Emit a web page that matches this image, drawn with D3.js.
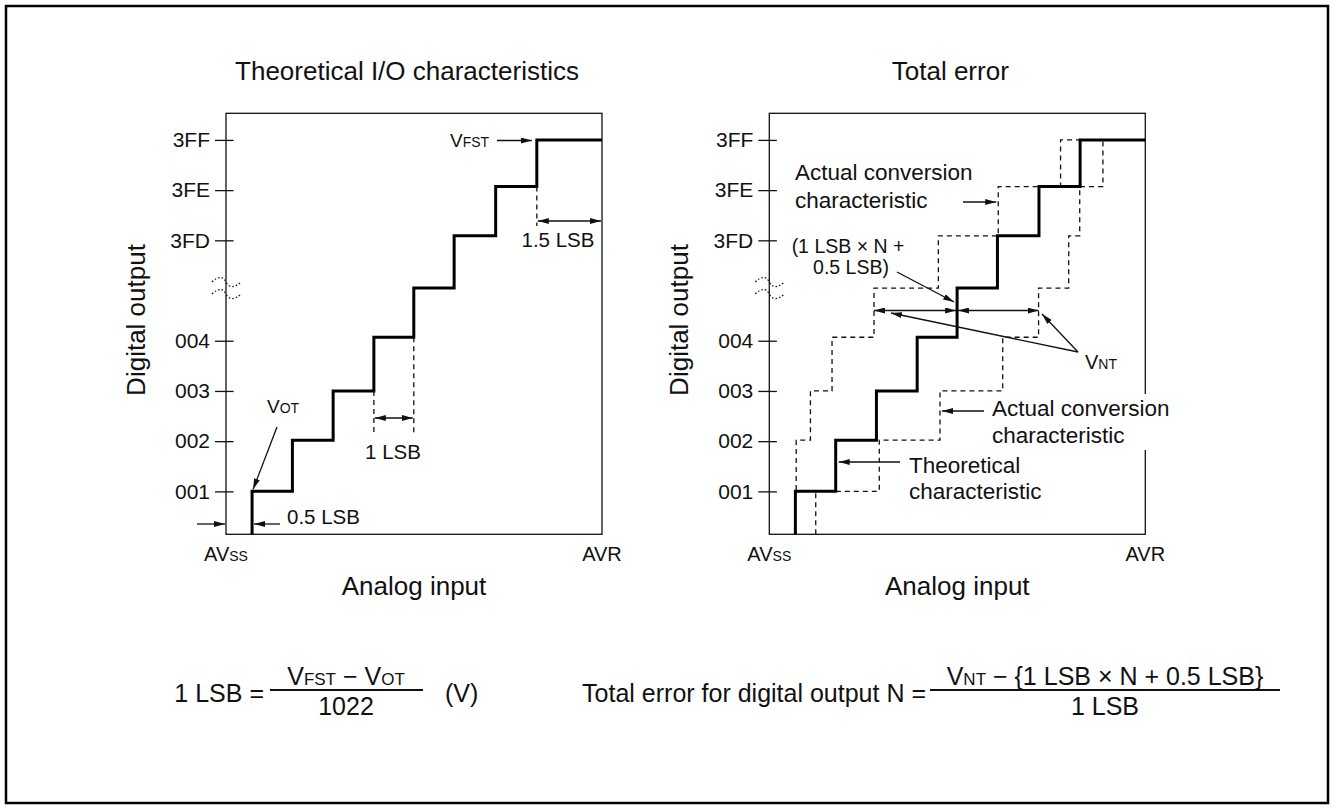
<!DOCTYPE html>
<html>
<head>
<meta charset="utf-8">
<title>A/D converter - total error</title>
<script src="https://d3js.org/d3.v7.min.js"></script>
<style>
  body { margin: 0; background: #fff; }
  svg text { font-family: "Liberation Sans", Arial, Helvetica, sans-serif; fill: #111; white-space: pre; }
</style>
</head>
<body>
<svg id="chart"></svg>
<script>
// y axis: code index position -> printed code
const codeLabels = ["001", "002", "003", "004", "3FD", "3FE", "3FF"];
const codePositions = [1, 2, 3, 4, 6, 7, 8];
// height of each output step, in code-index units
const stepLevels = [1.0, 2.02, 3.0, 4.07, 5.05, 6.09, 7.07, 8.0];
// analog input (LSB from AVss) at which each step starts
const idealEdges = [0.64, 1.63, 2.63, 3.63, 4.61, 5.60, 6.62, 7.63];
const actualEarlyEdges = [0.64, 0.66, 1.01, 1.54, 2.57, 4.15, 5.62, 7.15];
const actualLateEdges = [1.14, 2.70, 4.19, 5.73, 6.61, 7.35, 7.62, 8.19];
const panelTitles = ["Theoretical I/O characteristics", "Total error"];

const svgWidth = 1334;
const svgHeight = 809;
const boxW = 376;
const boxTop = 113.3;
const boxBottom = 534.3;
const panelLeft = [226, 769.3];

const svg = d3.select("#chart")
    .attr("width", svgWidth)
    .attr("height", svgHeight);

svg.append("defs").append("marker")
    .attr("id", "arr")
    .attr("viewBox", "0 0 11 6")
    .attr("refX", 11).attr("refY", 3)
    .attr("markerUnits", "userSpaceOnUse")
    .attr("markerWidth", 11).attr("markerHeight", 6)
    .attr("orient", "auto-start-reverse")
    .append("path").attr("d", "M0,0L11,3L0,6Z").attr("fill", "#111");

// page frame
svg.append("rect")
    .attr("x", 6).attr("y", 6)
    .attr("width", svgWidth - 12).attr("height", svgHeight - 12)
    .attr("fill", "none").attr("stroke", "#000").attr("stroke-width", 2.5);

function richText(g, x, y, parts, anchor) {
    const t = g.append("text").attr("x", x).attr("y", y)
        .attr("text-anchor", anchor || "start")
        .attr("xml:space", "preserve");
    parts.forEach(p => t.append("tspan").style("font-size", p[1] + "px").text(p[0]));
    return t;
}

function arrow(g, x1, y1, x2, y2, both) {
    const l = g.append("line")
        .attr("x1", x1).attr("y1", y1).attr("x2", x2).attr("y2", y2)
        .attr("stroke", "#111").attr("stroke-width", 1.3)
        .attr("marker-end", "url(#arr)");
    if (both) l.attr("marker-start", "url(#arr)");
}

function dashed(g, x1, y1, x2, y2) {
    g.append("line")
        .attr("x1", x1).attr("y1", y1).attr("x2", x2).attr("y2", y2)
        .attr("stroke", "#111").attr("stroke-width", 1.3)
        .attr("stroke-dasharray", "5,4");
}

const panels = panelLeft.map((left, i) => {
    const g = svg.append("g");
    const x = d3.scaleLinear().domain([0, 9.23]).range([left, left + boxW]);
    const y = d3.scaleLinear().domain([0.145, 8.53]).range([boxBottom, boxTop]);

    g.append("text")
        .attr("x", left + boxW / 2 - 7).attr("y", 80)
        .attr("text-anchor", "middle").style("font-size", "26px")
        .text(panelTitles[i]);

    g.append("rect")
        .attr("x", left).attr("y", boxTop)
        .attr("width", boxW).attr("height", boxBottom - boxTop)
        .attr("fill", "none").attr("stroke", "#111").attr("stroke-width", 1.3);

    const axis = g.append("g")
        .attr("transform", `translate(${left},0)`)
        .call(d3.axisLeft(y).tickValues(codePositions)
            .tickFormat((d, k) => codeLabels[k]).tickSize(11).tickPadding(5));
    axis.select(".domain").remove();
    axis.selectAll(".tick line").attr("x1", 7.6).attr("x2", -11)
        .attr("stroke", "#111").attr("stroke-width", 1.3);
    axis.selectAll(".tick text").style("font-size", "21px")
        .style("font-family", "'Liberation Sans', Arial, sans-serif").attr("fill", "#111");

    // axis break between 004 and 3FD
    const yb = y(5.05);
    [-6, 6].forEach(off => {
        g.append("path")
            .attr("d", `M${left - 14},${yb + off} C${left - 8},${yb + off - 6} ${left - 3},${yb + off - 6} ${left},${yb + off}` +
                ` S${left + 9},${yb + off + 6} ${left + 15},${yb + off}`)
            .attr("fill", "none").attr("stroke", "#111").attr("stroke-width", 1.2)
            .attr("stroke-dasharray", "1.6,2");
    });

    richText(g, x(0), 561, [["AV", 20], ["SS", 14]], "middle");
    richText(g, x(9.23), 561, [["AVR", 20]], "middle");

    g.append("text")
        .attr("x", left + boxW / 2).attr("y", 595)
        .attr("text-anchor", "middle").style("font-size", "26px")
        .text("Analog input");
    g.append("text")
        .attr("transform", `translate(${left - 81},320) rotate(-90)`)
        .attr("text-anchor", "middle").style("font-size", "26px")
        .text("Digital output");

    return { g, x, y, left };
});

function stairs(p, edges) {
    const pts = [[edges[0], p.y.domain()[0]]]
        .concat(edges.map((e, k) => [e, stepLevels[k]]))
        .concat([[p.x.domain()[1], stepLevels[stepLevels.length - 1]]]);
    return d3.line().x(d => p.x(d[0])).y(d => p.y(d[1])).curve(d3.curveStepAfter)(pts);
}

// ---- left: theoretical characteristic
const L = panels[0];
L.g.append("path").attr("d", stairs(L, idealEdges))
    .attr("fill", "none").attr("stroke", "#000").attr("stroke-width", 3);

richText(L.g, 267, 413, [["V", 19], ["OT", 14]]);
arrow(L.g, 277, 427, L.x(idealEdges[0]) + 1, L.y(stepLevels[0]) - 2);

arrow(L.g, 197, 524, L.x(0) - 1, 524);
arrow(L.g, 280, 524, L.x(idealEdges[0]) + 2, 524);
L.g.append("text").attr("x", 287).attr("y", 524).style("font-size", "20.5px").text("0.5 LSB");

dashed(L.g, L.x(idealEdges[3]), L.y(stepLevels[2]), L.x(idealEdges[3]), 436);
dashed(L.g, L.x(idealEdges[4]), L.y(stepLevels[3]), L.x(idealEdges[4]), 436);
arrow(L.g, L.x(idealEdges[3]) + 1, 418, L.x(idealEdges[4]) - 1, 418, true);
L.g.append("text").attr("x", 393).attr("y", 459).attr("text-anchor", "middle")
    .style("font-size", "20.5px").text("1 LSB");

richText(L.g, 450, 147, [["V", 19], ["FST", 14]]);
arrow(L.g, 497, 140.5, L.x(idealEdges[7]) - 5, 140.5);

dashed(L.g, L.x(idealEdges[7]), L.y(stepLevels[6]), L.x(idealEdges[7]), 226);
arrow(L.g, L.x(idealEdges[7]) + 1, 221, L.x(9.23) - 1, 221, true);
L.g.append("text").attr("x", 558).attr("y", 247).attr("text-anchor", "middle")
    .style("font-size", "20.5px").text("1.5 LSB");

// ---- right: total error
const R = panels[1];
[actualEarlyEdges, actualLateEdges].forEach(edges => {
    R.g.append("path").attr("d", stairs(R, edges))
        .attr("fill", "none").attr("stroke", "#111").attr("stroke-width", 1.3)
        .attr("stroke-dasharray", "5,4");
});
R.g.append("path").attr("d", stairs(R, idealEdges))
    .attr("fill", "none").attr("stroke", "#000").attr("stroke-width", 3);

R.g.append("text").attr("x", 795).attr("y", 180).style("font-size", "22.5px").text("Actual conversion");
R.g.append("text").attr("x", 795).attr("y", 208).style("font-size", "22.5px").text("characteristic");
arrow(R.g, 963, 202, R.x(actualEarlyEdges[6]) - 2, 202);

R.g.append("text").attr("x", 848).attr("y", 253).attr("text-anchor", "middle")
    .style("font-size", "19.5px").text("(1 LSB \u00d7 N +");
R.g.append("text").attr("x", 851).attr("y", 274).attr("text-anchor", "middle")
    .style("font-size", "19.5px").text("0.5 LSB)");
arrow(R.g, 897, 272, R.x(idealEdges[4]) - 3, 302);

const yArr = 310.5;
arrow(R.g, R.x(actualEarlyEdges[4]), yArr, R.x(idealEdges[4]) - 1, yArr, true);
arrow(R.g, R.x(idealEdges[4]) + 1, yArr, R.x(actualLateEdges[4]), yArr, true);

richText(R.g, 1085, 369, [["V", 20], ["NT", 14]]);
arrow(R.g, 1078, 352, 891, 313);
arrow(R.g, 1078, 352, 1042, 314);

const lowLabel = R.g.append("g");
const bg = lowLabel.append("rect").attr("fill", "#fff");
lowLabel.append("text").attr("x", 992).attr("y", 416).style("font-size", "22.5px").text("Actual conversion");
lowLabel.append("text").attr("x", 992).attr("y", 443).style("font-size", "22.5px").text("characteristic");
const bb = lowLabel.node().getBBox();
bg.attr("x", bb.x - 2).attr("y", bb.y - 2).attr("width", bb.width + 4).attr("height", bb.height + 4);
arrow(R.g, 984, 411, R.x(actualLateEdges[2]) + 2, 411);

R.g.append("text").attr("x", 909).attr("y", 473).style("font-size", "22.5px").text("Theoretical");
R.g.append("text").attr("x", 909).attr("y", 499).style("font-size", "22.5px").text("characteristic");
arrow(R.g, 900, 462, R.x(idealEdges[1]) + 3, 462);

// ---- formulas
const f = svg.append("g");
f.append("text").attr("x", 264).attr("y", 702).attr("text-anchor", "end")
    .style("font-size", "25px").text("1 LSB =");
f.append("line").attr("x1", 270).attr("x2", 423).attr("y1", 690).attr("y2", 690)
    .attr("stroke", "#111").attr("stroke-width", 2);
richText(f, 346, 685, [["V", 25], ["FST", 17], [" \u2212 V", 25], ["OT", 17]], "middle");
f.append("text").attr("x", 346).attr("y", 715).attr("text-anchor", "middle")
    .style("font-size", "25px").text("1022");
f.append("text").attr("x", 445).attr("y", 702).style("font-size", "25px").text("(V)");

f.append("text").attr("x", 926).attr("y", 702).attr("text-anchor", "end")
    .style("font-size", "25px").text("Total error for digital output N =");
f.append("line").attr("x1", 930).attr("x2", 1280).attr("y1", 690).attr("y2", 690)
    .attr("stroke", "#111").attr("stroke-width", 2);
richText(f, 1105, 685, [["V", 25], ["NT", 17], [" \u2212 {1 LSB \u00d7 N + 0.5 LSB}", 25]], "middle");
f.append("text").attr("x", 1105).attr("y", 715).attr("text-anchor", "middle")
    .style("font-size", "25px").text("1 LSB");
</script>
</body>
</html>
